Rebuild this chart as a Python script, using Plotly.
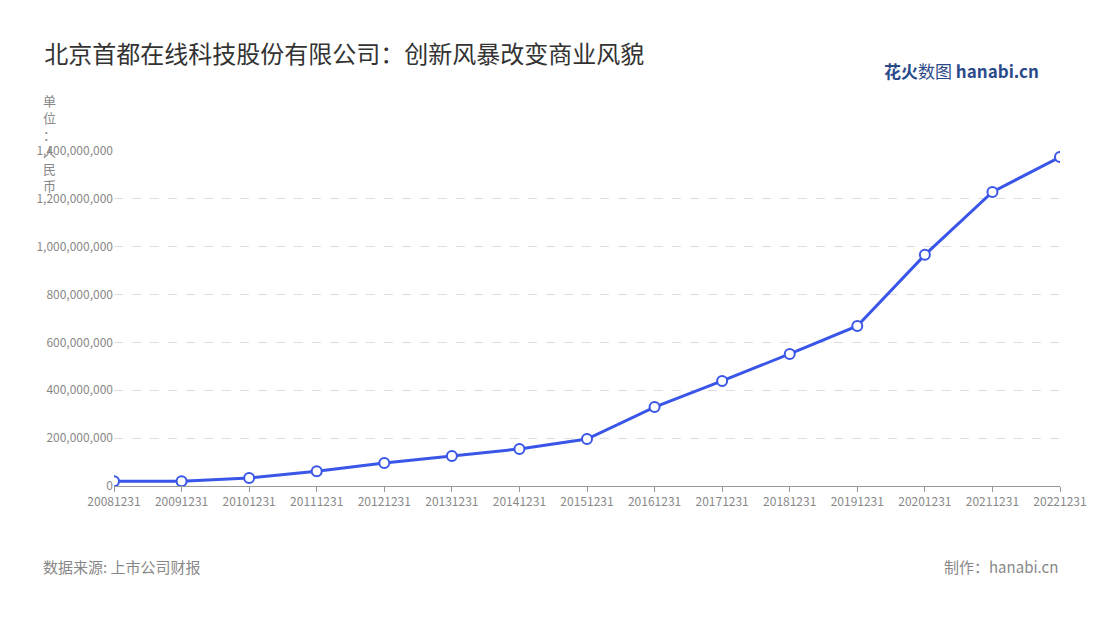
import plotly.graph_objects as go

years = ["20081231", "20091231", "20101231", "20111231", "20121231", "20131231", "20141231",
         "20151231", "20161231", "20171231", "20181231", "20191231", "20201231", "20211231", "20221231"]
revenue = [20e6, 20e6, 33e6, 62e6, 96e6, 125e6, 155e6, 196e6, 330e6, 439e6, 552e6, 669e6,
           966e6, 1229e6, 1375e6]
tick_vals = [0, 200e6, 400e6, 600e6, 800e6, 1000e6, 1200e6, 1400e6]
tick_text = ["0", "200,000,000", "400,000,000", "600,000,000", "800,000,000",
             "1,000,000,000", "1,200,000,000", "1,400,000,000"]

font = "Noto Sans CJK SC"
fig = go.Figure(go.Scatter(
    x=years, y=revenue, mode="lines+markers",
    line=dict(color="#3a56e8", width=3),
    marker=dict(size=10, color="white", line=dict(color="#3a56e8", width=2)),
))

fig.update_layout(
    width=1100, height=620, plot_bgcolor="white", paper_bgcolor="white",
    margin=dict(l=106, r=48, t=143, b=142), showlegend=False,
    font=dict(family=font, color="#888"),
    title=dict(text="北京首都在线科技股份有限公司：创新风暴改变商业风貌", x=0.033, y=0.925,
               xanchor="left", yanchor="middle", font=dict(size=24, color="#333", family=font)),
    xaxis=dict(type="category", range=[0, 14], showgrid=False, showline=True, linecolor="#999",
               ticks="outside", ticklen=5, tickcolor="#999", tickfont=dict(size=12, color="#888")),
    yaxis=dict(range=[0, 1.4e9], tickvals=tick_vals, ticktext=tick_text, showgrid=True,
               gridcolor="#ddd", griddash="dash", zeroline=False, showline=False,
               tickfont=dict(size=12, color="#888")),
)
fig.add_annotation(text="单<br>位<br>：<br>人<br>民<br>币", xref="paper", yref="paper",
                   x=-0.068, y=1.185, xanchor="center", yanchor="top", showarrow=False,
                   font=dict(size=13, color="#888"))
fig.add_annotation(text="数据来源: 上市公司财报", xref="paper", yref="paper", x=-0.077, y=-0.24,
                   xanchor="left", yanchor="middle", showarrow=False, font=dict(size=15, color="#888"))
fig.add_annotation(text="制作：hanabi.cn", xref="paper", yref="paper", x=1.0, y=-0.24,
                   xanchor="right", yanchor="middle", showarrow=False, font=dict(size=15, color="#888"))
fig.add_annotation(text="<b>花火</b>数图 <b>hanabi.cn</b>", xref="paper", yref="paper", x=0.98, y=1.24,
                   xanchor="right", yanchor="middle", showarrow=False, font=dict(size=17, color="#2a4a8a"))

fig.write_html("out.html")
